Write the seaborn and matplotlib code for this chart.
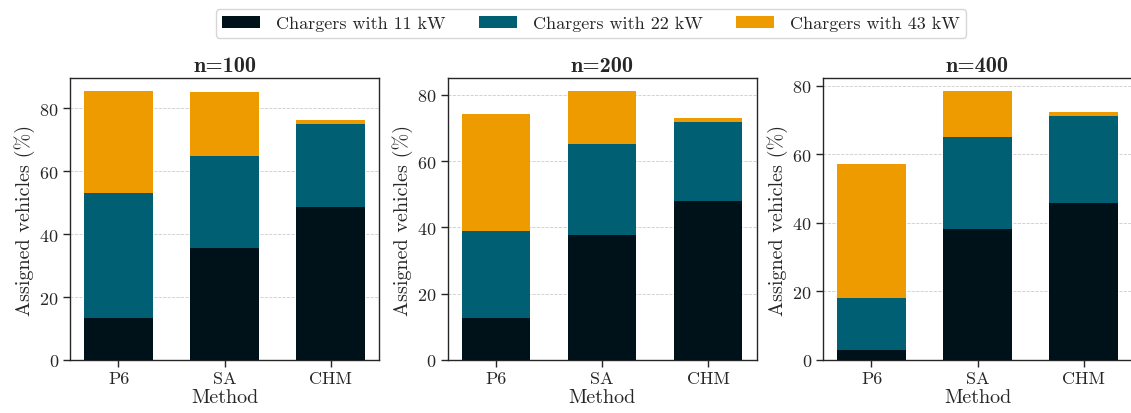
import numpy as np
import pandas as pd
import matplotlib
matplotlib.use("Agg")
import matplotlib.pyplot as plt
from matplotlib.patches import Patch
import seaborn as sns

# Share of assigned vehicles (%) per charger power, for each fleet size
methods = ["P6", "SA", "CHM"]
sizes = ["n=100", "n=200", "n=400"]
kw11 = {"n=100": [13.3, 35.6, 48.7],
        "n=200": [12.7, 37.8, 48.1],
        "n=400": [2.9, 38.3, 45.9]}
kw22 = {"n=100": [39.7, 29.2, 26.2],
        "n=200": [26.3, 27.2, 23.8],
        "n=400": [15.2, 26.9, 25.2]}
kw43 = {"n=100": [32.4, 20.3, 1.3],
        "n=200": [35.1, 16.0, 1.2],
        "n=400": [39.2, 13.2, 1.4]}
series_names = ["Chargers with 11 kW", "Chargers with 22 kW", "Chargers with 43 kW"]
colors = ["#001219", "#005f73", "#ee9b00"]

sns.set_theme(style="ticks")
plt.rcParams.update({
    "font.family": "serif",
    "font.serif": ["cmr10"],
    "mathtext.fontset": "cm",
    "axes.formatter.use_mathtext": True,
    "axes.unicode_minus": False,
    "axes.edgecolor": "0.15",
    "xtick.color": "0.15",
    "ytick.color": "0.15",
})

fig = plt.figure(figsize=(11.31, 4.14), dpi=100)
W, H = 1131, 414
lefts = [70, 447.5, 823]
axw, top, bottom = 309, 79, 361
axes = [fig.add_axes([l / W, 1 - bottom / H, axw / W, (bottom - top) / H]) for l in lefts]

bw = 0.65
for ax, n in zip(axes, sizes):
    a = np.array(kw11[n])
    b = np.array(kw22[n])
    c = np.array(kw43[n])
    df = pd.DataFrame({"Method": methods,
                       "s1": a, "s2": a + b, "s3": a + b + c})
    # stack by overdrawing cumulative totals, tallest first
    for col, colr in zip(["s3", "s2", "s1"], colors[::-1]):
        sns.barplot(data=df, x="Method", y=col, color=colr, width=bw,
                    saturation=1, ax=ax, zorder=3, linewidth=0)
    ax.set_xlim(-bw / 2 - 0.1325, 2 + bw / 2 + 0.1325)
    ax.set_ylim(0, df["s3"].max() * 1.05)
    ax.set_yticks([0, 20, 40, 60, 80])
    ax.yaxis.grid(True, linestyle="--", color="0.8", linewidth=0.6, zorder=0)
    ax.set_axisbelow(True)
    ax.set_title(n, family="cmb10", fontsize=16, pad=5)
    ax.set_xlabel("Method", fontsize=14.5, labelpad=1)
    ax.set_ylabel("Assigned vehicles (%)", fontsize=14.5, labelpad=3)
    ax.tick_params(axis="both", labelsize=13, length=5, width=1, direction="out", pad=3)
    for sp in ax.spines.values():
        sp.set_visible(True)
        sp.set_linewidth(1)

handles = [Patch(facecolor=c, edgecolor="none") for c in colors]
fig.legend(handles, series_names, loc="upper center", ncol=3,
           bbox_to_anchor=(0.5225, 0.997), frameon=True, fontsize=13,
           handlelength=2.1, handleheight=0.72, handletextpad=0.89,
           columnspacing=1.85, borderpad=0.35, fancybox=True, edgecolor="0.8")

fig.savefig("out.png", dpi=100)
